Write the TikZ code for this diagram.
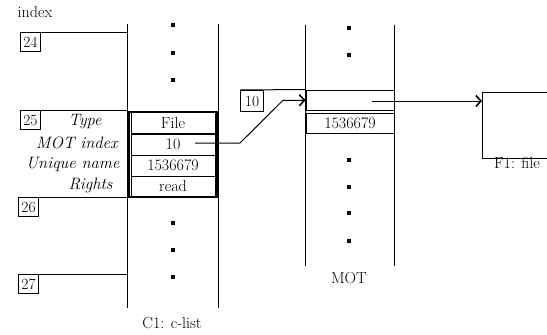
\documentclass[tikz,border=0pt]{standalone}
\usetikzlibrary{arrows.meta}
\begin{document}
\begin{tikzpicture}[x=1pt,y=-1pt,line width=1pt,
  idx/.style={draw,inner sep=0pt,minimum width=20pt,minimum height=19pt,anchor=north west,font=\fontsize{15.5}{15.5}\selectfont},
  lbl/.style={anchor=east,inner sep=0pt,font=\fontsize{16.5}{16.5}\selectfont\itshape},
  txt/.style={inner sep=0pt,font=\fontsize{16}{16}\selectfont},
  cell/.style={draw,inner sep=0pt,minimum width=84pt,minimum height=21pt,font=\fontsize{16}{16}\selectfont},
  mcell/.style={draw,inner sep=0pt,minimum width=88pt,minimum height=20.5pt,font=\fontsize{16}{16}\selectfont},
  sq/.style={fill,inner sep=0pt,minimum width=4pt,minimum height=4.6pt},
  col/.style={inner sep=0pt},
  arr/.style={-{Straight Barb[length=5pt,width=11pt,line width=1.6pt]}}]
\useasboundingbox (0,0) rectangle (547,335);

% columns
\node[col,minimum width=90pt,minimum height=283pt] (clist) at (173,165.5) {};
\node[col,minimum width=88pt,minimum height=240pt] (mot) at (350,145) {};
\draw (clist.north west) -- (clist.south west);
\draw (clist.north east) -- (clist.south east);
\draw (mot.north west) -- (mot.south west);
\draw (mot.north east) -- (mot.south east);

% index label and index boxes
\node[txt] (index) at (35,12) {index};
\node[idx] (i24) at (20,32) {24};
\node[idx] (i25) at (20,110) {25};
\node[idx] (i26) at (18,197) {26};
\node[idx] (i27) at (18,274) {27};
\draw (i24.north west) -- (i24.north west -| clist.west);
\draw (i25.north west) -- (i25.north west -| clist.west);
\draw (i26.north west) -- (i26.north west -| clist.west);
\draw (i27.north west) -- (i27.north west -| clist.west);

% field labels
\node[lbl] (lt) at (102,122) {Type};
\node[lbl] (lm) at (118,143) {MOT index};
\node[lbl] (lu) at (120,164) {Unique name};
\node[lbl] (lr) at (113,185) {Rights};

% capability cells
\node[cell] (ct) at (173,123) {File};
\node[cell] (cm) at (173,144.5) {10};
\node[cell] (cu) at (173,165.5) {1536679};
\node[cell] (cr) at (173,186.5) {read};
\node[draw,line width=2.8pt,inner sep=0pt,minimum width=89pt,minimum height=85pt] (frame) at (173,154.5) {};

% c-list dots
\foreach \y/\n in {25/a,53/b,80/c,223/d,250/e,277/f}
  \node[sq] (cd\n) at (173,\y) {};

% MOT entry
\node[idx,minimum width=23pt,minimum height=21pt] (b10) at (240,90) {10};
\node[mcell] (m1) at (350,100.25) {};
\node[mcell] (m2) at (350,123.25) {1536679};
\draw (b10.north west) -- (m1.north west);
\foreach \y/\n in {28/a,55/b,160/c,187/d,213/e,241/f}
  \node[sq] (md\n) at (349,\y) {};

% arrow from c-list MOT index to MOT
\coordinate (s1) at (195,143);
\coordinate (k1) at (240,143);
\coordinate (k2) at (283,100.25);
\draw[arr] (s1) -- (k1) -- (k2) -- (m1.west);

% file object
\node[col,minimum width=70pt,minimum height=65pt,anchor=north west] (f1) at (482,92) {};
\draw (f1.north east) -- (f1.north west) -- (f1.south west) -- (f1.south east);
\coordinate (s2) at (372,101);
\draw[arr] (s2) -- (s2 -| f1.west);

% captions
\node[txt] (cf1) at (517,163) {F1: file};
\node[txt] (cmot) at (349,278) {MOT};
\node[txt] (ccl) at (172,323) {C1: c-list};
\end{tikzpicture}
\end{document}
